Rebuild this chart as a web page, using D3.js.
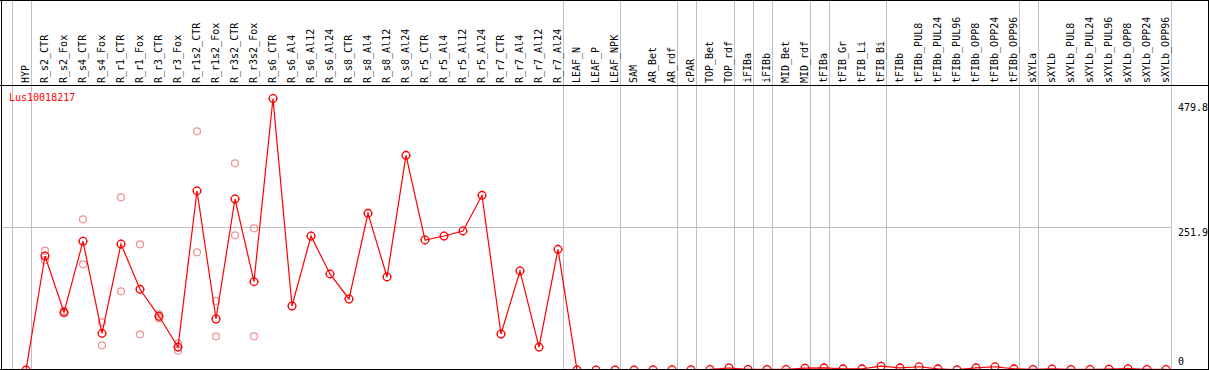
<!DOCTYPE html>
<html>
<head>
<meta charset="utf-8">
<script src="https://cdn.jsdelivr.net/npm/d3@7"></script>
<style>
	body { margin: 0; background: #fff; }
	text { font-family: "DejaVu Sans Mono", monospace; font-size: 10px; }
</style>
</head>
<body>
<div id="chart"></div>
<script>
// sample names, in the order they are drawn
var samples = ["HYP",
	"R_s2_CTR", "R_s2_Fox", "R_s4_CTR", "R_s4_Fox", "R_r1_CTR", "R_r1_Fox", "R_r3_CTR", "R_r3_Fox",
	"R_r1s2_CTR", "R_r1s2_Fox", "R_r3s2_CTR", "R_r3s2_Fox",
	"R_s6_CTR", "R_s6_Al4", "R_s6_Al12", "R_s6_Al24", "R_s8_CTR", "R_s8_Al4", "R_s8_Al12", "R_s8_Al24",
	"R_r5_CTR", "R_r5_Al4", "R_r5_Al12", "R_r5_Al24", "R_r7_CTR", "R_r7_Al4", "R_r7_Al12", "R_r7_Al24",
	"LEAF_N", "LEAF_P", "LEAF_NPK", "SAM", "AR_Bet", "AR_rdf", "cPAR", "TOP_Bet", "TOP_rdf",
	"iFIBa", "iFIBb", "MID_Bet", "MID_rdf", "tFIBa", "tFIB_Gr", "tFIB_Li", "tFIB_Bi",
	"tFIBb", "tFIBb_PUL8", "tFIBb_PUL24", "tFIBb_PUL96", "tFIBb_OPP8", "tFIBb_OPP24", "tFIBb_OPP96",
	"sXYLa", "sXYLb", "sXYLb_PUL8", "sXYLb_PUL24", "sXYLb_PUL96", "sXYLb_OPP8", "sXYLb_OPP24", "sXYLb_OPP96"];

// how many samples sit in each block between the grey separators
var groupSizes = [1, 28, 3, 3, 1, 2, 1, 1, 2, 1, 3, 7, 1, 7];

// mean expression (red line)
var means = [0,
	201.5, 102, 227.5, 64.9, 222.7, 142.6, 94.9, 40.6,
	316.4, 90.1, 302.2, 156.1,
	479.8, 113.1, 236.8, 169.7, 125.5, 276.9, 164.4, 379.4,
	229.8, 236.8, 245.7, 308.7, 63.6, 175, 40.6, 213.3,
	0, 0, 0, 0, 0.5, 0.5, 0.5, 1, 3.5,
	1, 1, 1, 3.2, 3.9, 2.1, 2.1, 6.7,
	3.9, 5.7, 2.1, 0.5, 3.9, 5.7, 2.1,
	1, 2, 1, 1, 1.5, 2.5, 1, 1];

// single replicates (pink circles)
var repSamples = ["R_s2_CTR", "R_s2_CTR", "R_s2_Fox", "R_s2_Fox", "R_s4_CTR", "R_s4_CTR",
	"R_s4_Fox", "R_s4_Fox", "R_r1_CTR", "R_r1_CTR", "R_r1_Fox", "R_r1_Fox",
	"R_r3_CTR", "R_r3_CTR", "R_r3_Fox", "R_r3_Fox", "R_r1s2_CTR", "R_r1s2_CTR",
	"R_r1s2_Fox", "R_r1s2_Fox", "R_r3s2_CTR", "R_r3s2_CTR", "R_r3s2_Fox", "R_r3s2_Fox"];
var repValues = [210.9, 194.4, 100, 104, 266.3, 186.8,
	84.3, 43.6, 305.2, 139.1, 222.1, 63.1,
	98.4, 91.5, 47.1, 34.2, 421.8, 208,
	122, 59.5, 365.3, 238, 250.4, 59.5];

var yTicks = [0, 251.9, 479.8];
var geneName = "Lus10018217";

var width = 1209, height = 370;
var headerH = 85, plotRight = 1171;

var x = d3.scalePoint()
	.domain(samples)
	.range([26, 1166]);

var y = d3.scaleLinear()
	.domain([0, 479.8])
	.range([370, 98.5]);

var svg = d3.select("#chart").append("svg")
	.attr("width", width)
	.attr("height", height)
	.style("display", "block");

svg.append("rect").attr("width", width).attr("height", height).attr("fill", "#fff");

svg.append("clipPath").attr("id", "plotclip")
  .append("rect")
	.attr("x", 2).attr("y", headerH + 1)
	.attr("width", plotRight - 2).attr("height", 369 - headerH - 1);

// grey separators between the sample blocks
var sepX = [x(samples[0]) - x.step() + 5];
var k = 0;
groupSizes.forEach(function(n) {
	k += n;
	sepX.push(x(samples[k - 1]) + 5);
});
svg.selectAll(".sep")
	.data(sepX)
  .enter().append("line")
	.attr("class", "sep")
	.attr("x1", function(d) { return Math.round(d) + 0.5; })
	.attr("x2", function(d) { return Math.round(d) + 0.5; })
	.attr("y1", 0).attr("y2", 370)
	.attr("stroke", "#c0c0c0");

// horizontal grid at the middle tick only
svg.append("line")
	.attr("x1", 2).attr("x2", plotRight)
	.attr("y1", Math.round(y(yTicks[1])) + 0.5)
	.attr("y2", Math.round(y(yTicks[1])) + 0.5)
	.attr("stroke", "#c0c0c0");

// sample names, rotated
svg.selectAll(".lab")
	.data(samples)
  .enter().append("text")
	.attr("class", "lab")
	.attr("transform", function(d) { return "translate(" + (x(d) + 3) + "," + (headerH - 2) + ") rotate(-90)"; })
	.text(function(d) { return d; });

// y tick labels on the right
svg.selectAll(".ytick")
	.data(yTicks)
  .enter().append("text")
	.attr("class", "ytick")
	.attr("x", plotRight + 7)
	.attr("y", function(d, i) {
		if (i == 0) return y(d) - 5;
		if (i == yTicks.length - 1) return y(d) + 12.5;
		return y(d) + 9;
	})
	.text(function(d) { return d; });

var plot = svg.append("g").attr("clip-path", "url(#plotclip)");

// replicates
plot.selectAll(".rep")
	.data(repValues)
  .enter().append("circle")
	.attr("class", "rep")
	.attr("cx", function(d, i) { return x(repSamples[i]); })
	.attr("cy", function(d) { return y(d); })
	.attr("r", 3.5)
	.attr("fill", "none")
	.attr("stroke", "#f09090")
	.attr("stroke-width", 1.2);

var line = d3.line()
	.x(function(d, i) { return x(samples[i]); })
	.y(function(d) { return y(d); });

plot.append("path")
	.datum(means)
	.attr("d", line)
	.attr("fill", "none")
	.attr("stroke", "#ff0000")
	.attr("stroke-width", 1.2);

var marks = plot.selectAll(".mean")
	.data(means)
  .enter().append("g")
	.attr("class", "mean")
	.attr("transform", function(d, i) { return "translate(" + x(samples[i]) + "," + y(d) + ")"; });

marks.append("circle")
	.attr("r", 3.8)
	.attr("fill", "none")
	.attr("stroke", "#ff0000")
	.attr("stroke-width", 1.3);

// little spikes round each marker
marks.append("path")
	.attr("d", "M0,-3.8V-4.8M0,3.8V4.8M-3.8,0H-4.8M3.8,0H4.8")
	.attr("stroke", "#ff0000")
	.attr("stroke-width", 0.8);

svg.append("text")
	.attr("x", 9).attr("y", 101)
	.attr("fill", "#ff0000")
	.text(geneName);

// frame
svg.append("line").attr("x1", 0).attr("x2", width).attr("y1", 0.5).attr("y2", 0.5).attr("stroke", "#000");
svg.append("line").attr("x1", 0).attr("x2", width).attr("y1", headerH + 0.5).attr("y2", headerH + 0.5).attr("stroke", "#000");
svg.append("line").attr("x1", 0).attr("x2", width).attr("y1", 369.5).attr("y2", 369.5).attr("stroke", "#000");
svg.append("line").attr("x1", 1.5).attr("x2", 1.5).attr("y1", 0).attr("y2", height).attr("stroke", "#000");
svg.append("line").attr("x1", 1208.5).attr("x2", 1208.5).attr("y1", 0).attr("y2", height).attr("stroke", "#000");
</script>
</body>
</html>
